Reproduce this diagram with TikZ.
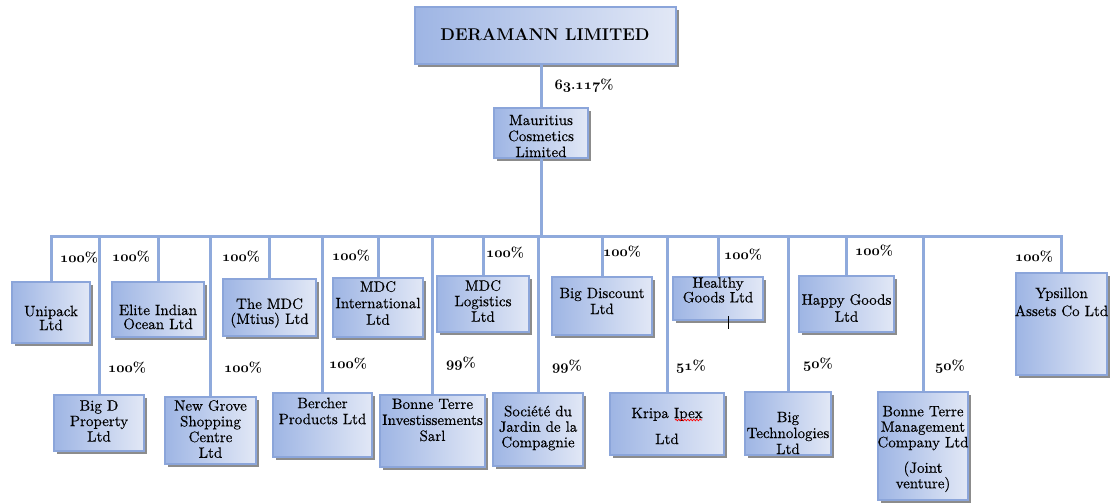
\documentclass[tikz,border=0pt]{standalone}
\usepackage{fontspec}
\newfontfamily\boxfont{lmroman10-regular.otf}[FakeBold=0.35]
\usetikzlibrary{shadows,decorations.pathmorphing}
\definecolor{boxdark}{RGB}{158,181,228}
\definecolor{boxlight}{RGB}{226,232,246}
\definecolor{boxedge}{RGB}{139,165,218}
\definecolor{linec}{RGB}{143,170,220}
\definecolor{shadowc}{RGB}{140,140,140}
\newcommand\osn[1]{{\usefont{OML}{cmm}{b}{it}#1}}
\tikzset{
 entbox/.style={draw=boxedge, line width=1.8pt, left color=boxdark, right color=boxlight,
   drop shadow={shadow xshift=3pt, shadow yshift=-3pt, fill=shadowc, opacity=1}, inner sep=0pt},
 lbl/.style={font=\boxfont\fontsize{15}{15.5}\selectfont, align=center, inner sep=0pt},
 pct/.style={font=\bfseries\fontsize{14}{14}\selectfont, inner sep=0pt},
 conn/.style={draw=linec, line width=3pt},
}
\newcommand\entity[5]{\node[entbox, minimum width={(#4-#2)*1pt}, minimum height={(#5-#3)*1pt}] (#1) at ({(#2+#4)/2},{(#3+#5)/2}) {};}
\newcommand\fs[1]{\boxfont\fontsize{15}{#1}\selectfont}
\begin{document}
\begin{tikzpicture}[x=1pt,y=-1pt]
\useasboundingbox (0,0) rectangle (1114,503);
% boxes
\entity{deramann}{415}{7}{676}{64}
\entity{mcl}{494}{108}{588}{158}
\entity{unipack}{12}{282}{90}{343}
\entity{elite}{112}{282}{204}{337}
\entity{mdcm}{223}{279}{316}{336}
\entity{mdci}{333}{278}{423}{337}
\entity{mdcl}{437}{276}{529}{332}
\entity{bigdisc}{552}{277}{652}{335}
\entity{healthy}{673}{277}{763}{320}
\entity{happy}{799}{276}{894}{332}
\entity{ypsillon}{1016}{273}{1107}{375}
\entity{bigd}{54}{395}{144}{451}
\entity{newgrove}{165}{397}{256}{464}
\entity{bercher}{273}{393}{372}{457}
\entity{bti}{380}{395}{485}{467}
\entity{societe}{493}{393}{583}{466}
\entity{kripa}{610}{393}{724}{455}
\entity{bigtech}{745}{392}{831}{455}
\entity{btm}{878}{392}{968}{500}
% connectors
\coordinate (bus) at (541,236);
\draw[conn] (deramann.south -| mcl.north) -- (mcl.north);
\draw[conn] (mcl.south) -- (mcl.south |- bus);
\draw[conn] (unipack.north) |- (ypsillon.north |- bus) -- (ypsillon.north);
\foreach \n in {elite,mdcm,mdci,mdcl,bigdisc,healthy,happy,bigd,newgrove,bercher,bti,societe,kripa,bigtech,btm}
  \draw[conn] (\n.north) -- (\n.north |- bus);
% texts
\node[font=\bfseries\fontsize{17}{17}\selectfont, inner sep=0pt] (t-deramann) at (545,35) {DERAMANN LIMITED};
\node[pct] (p-mcl) at (584,86) {\osn{63}.\osn{117}\%};
\node[lbl, font=\fs{16}] (t-mcl) at (541,136) {Mauritius\\Cosmetics\\Limited};
\node[lbl, font=\fs{14}] (t-unipack) at (51,318) {Unipack\\Ltd};
\node[lbl, font=\fs{14}] (t-elite) at (158,317) {Elite Indian\\Ocean Ltd};
\node[lbl, font=\fs{15}] (t-mdcm) at (269.5,313) {The MDC\\(Mtius) Ltd};
\node[lbl, font=\fs{16.5}] (t-mdci) at (378,303) {MDC\\International\\Ltd};
\node[lbl, font=\fs{15.5}] (t-mdcl) at (483,301) {MDC\\Logistics\\Ltd};
\node[lbl, font=\fs{16}] (t-bigdisc) at (602,301) {Big Discount\\Ltd};
\node[lbl, font=\fs{11}] (t-healthy) at (718,290) {Healthy\\Goods Ltd};
\node[lbl, font=\fs{17}] (t-happy) at (846.5,308) {Happy Goods\\Ltd};
\node[lbl, font=\fs{18}] (t-ypsillon) at (1061.5,302) {Ypsillon\\Assets Co Ltd};
\node[lbl] (t-bigd) at (99,421) {Big D\\Property\\Ltd};
\node[lbl, font=\fs{15.7}] (t-newgrove) at (210.5,429) {New Grove\\Shopping\\Centre\\Ltd};
\node[lbl, font=\fs{16}] (t-bercher) at (322.5,411) {Bercher\\Products Ltd};
\node[lbl, font=\fs{16}] (t-bti) at (432.5,420) {Bonne Terre\\Investissements\\Sarl};
\node[lbl] (t-societe) at (538,428) {Société du\\Jardin de la\\Compagnie};
\node[lbl, font=\fs{26}] (t-kripa) at (667,426) {Kripa Ipex\\Ltd};
\node[lbl, font=\fs{16}] (t-bigtech) at (788,433) {Big\\Technologies\\Ltd};
\node[lbl] (t-btm) at (923,449) {Bonne Terre\\Management\\Company Ltd\\[10pt](Joint\\venture)};
% percentages
\node[pct] (p-unipack) at (79,258) {\osn{100}\%};
\node[pct] (p-elite) at (131,257) {\osn{100}\%};
\node[pct] (p-mdcm) at (241,257) {\osn{100}\%};
\node[pct] (p-mdci) at (351,256) {\osn{100}\%};
\node[pct] (p-mdcl) at (505,253) {\osn{100}\%};
\node[pct] (p-bigdisc) at (622,252) {\osn{100}\%};
\node[pct] (p-healthy) at (743,255) {\osn{100}\%};
\node[pct] (p-happy) at (874,251) {\osn{100}\%};
\node[pct] (p-ypsillon) at (1034,257) {\osn{100}\%};
\node[pct] (p-bigd) at (127,368) {\osn{100}\%};
\node[pct] (p-newgrove) at (243,368) {\osn{100}\%};
\node[pct] (p-bercher) at (348,364) {\osn{100}\%};
\node[pct] (p-bti) at (461,364) {\osn{99}\%};
\node[pct] (p-societe) at (567,367) {\osn{99}\%};
\node[pct] (p-kripa) at (691,367) {\osn{51}\%};
\node[pct] (p-bigtech) at (818,365) {\osn{50}\%};
\node[pct] (p-btm) at (950,367) {\osn{50}\%};
% spell-check squiggle and cursor mark
\draw[red, line width=0.7pt, decorate, decoration={snake, amplitude=0.8pt, segment length=3pt}] (675,420) -- (702,420);
\draw[black, line width=0.6pt] (728,316) -- (728,329);
\end{tikzpicture}
\end{document}
